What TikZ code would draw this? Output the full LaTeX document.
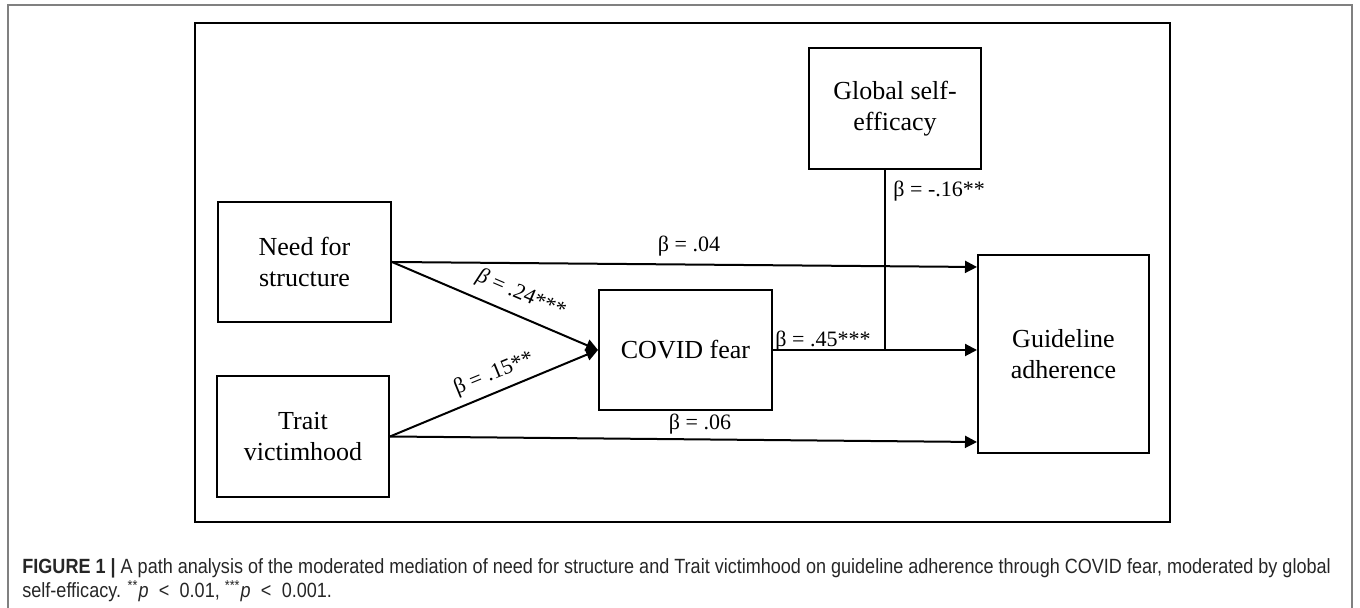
\documentclass[tikz,border=0pt]{standalone}
\usepackage{fontspec}
\setmainfont{Liberation Serif}
\newfontfamily\capfont[FakeStretch=0.876]{Liberation Sans}
\usetikzlibrary{arrows.meta,calc}
\begin{document}
\begin{tikzpicture}[x=0.5pt,y=-0.5pt,
  box/.style={draw, line width=1pt, minimum width=86.5pt, minimum height=60pt, align=center,
    font=\fontsize{13}{15.5}\selectfont, inner sep=0pt},
  link/.style={line width=1pt, -{Triangle[length=6pt,width=6pt]}},
  plain/.style={line width=1pt},
  lbl/.style={font=\fontsize{11}{13}\selectfont, inner sep=0pt},
  captext/.style={anchor=base west, inner sep=0pt, text=black!85, font=\capfont\fontsize{10.3}{12}\selectfont},
]
\useasboundingbox (0,0) rectangle (1360,608);
% frames
\draw[black!50, line width=0.75pt] (8,620) -- (8,5) -- (1352,5) -- (1352,620);
\draw[line width=1.1pt] (195,23) rectangle (1170,522);

% boxes
\node[box] (Need) at (304.5,262) {Need for\\structure};
\node[box, minimum width=86pt, minimum height=60.5pt] (Trait) at (303,436.5) {Trait\\victimhood};
\node[box] (Covid) at (685.5,350) {COVID fear};
\node[box, minimum width=86pt, minimum height=60.5pt] (Global) at (895,108.5) {Global self-\\efficacy};
\node[box, minimum width=85.5pt, minimum height=99pt] (Guide) at (1063.5,354) {Guideline\\adherence};

% connectors
\draw[link] (Need.east) -- ([yshift=43.5pt]Guide.west);
\draw[link] (Need.east) -- (Covid.west);
\draw[link] (Trait.east) -- (Covid.west);
\draw[link] (Trait.east) -- ([yshift=-44pt]Guide.west);
\draw[link] (Covid.east) -- (Covid.east -| Guide.west);
\coordinate (m1) at ([xshift=-5pt]Global.south);
\coordinate (m2) at (m1 |- Covid.east);
\draw[plain] (m1) -- (m2);

% labels
\node[lbl, anchor=base] (l04) at (689,252) {β = .04};
\node[lbl, anchor=base] (l06) at (700,430) {β = .06};
\node[lbl, anchor=base] (l45) at (823,347) {β = .45***};
\node[lbl, anchor=base west] (l16) at (893,197) {β = -.16**};
\node[lbl, rotate=-23.2] (l24) at (521,294.5) {\textit{β} = .24***};
\node[lbl, rotate=22.3] (l15) at (494,374) {β = .15**};

% caption
\node[captext] (cap1) at (22,574) {\textbf{FIGURE 1 |} A path analysis of the moderated mediation of need for structure and Trait victimhood on guideline adherence through COVID fear, moderated by global};
\node[captext] (cap2) at (22,598) {self-efficacy. \textsuperscript{**}\textit{p}\enspace<\enspace0.01, \textsuperscript{***}\textit{p}\enspace<\enspace0.001.};
\end{tikzpicture}
\end{document}
